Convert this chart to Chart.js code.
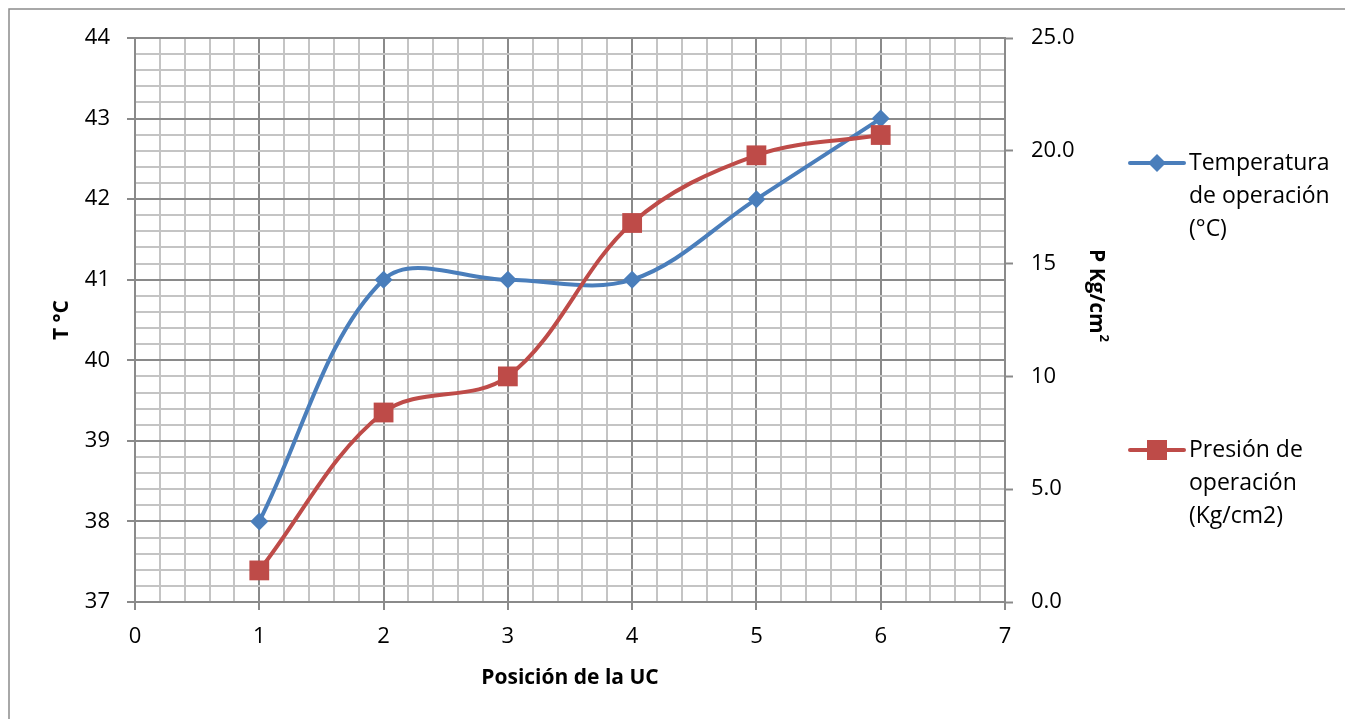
<!DOCTYPE html>
<html><head><meta charset="utf-8">
<script src="https://cdn.jsdelivr.net/npm/chart.js@4.4.1/dist/chart.umd.min.js"></script>
<style>html,body{margin:0;padding:0;background:#fff;}canvas{display:block;}</style>
</head><body>
<canvas id="c" width="1345" height="719"></canvas>
<script>
// ---- data ----
const positions = [1, 2, 3, 4, 5, 6];
const temperatura = [38, 41, 41, 41, 42, 43];
const presion = [1.4, 8.4, 10.0, 16.8, 19.8, 20.7];
const xTickLabels = ['0', '1', '2', '3', '4', '5', '6', '7'];
const leftTickLabels = ['37', '38', '39', '40', '41', '42', '43', '44'];
const rightTickValues = [0, 5, 10, 15, 20, 25];
const rightTickLabels = ['0.0', '5.0', '10', '15', '20.0', '25.0'];
const legendTemp = ['Temperatura', 'de operación', '(°C)'];
const legendPres = ['Presión de', 'operación', '(Kg/cm2)'];
const xTitle = 'Posición de la UC';
const leftTitle = 'T °C';
const rightTitleMain = 'P Kg/cm';
const rightTitleSup = '2';

// ---- style ----
const FONT = "'Open Sans', 'Noto Sans', sans-serif";
const BLUE = '#4A7EBB', RED = '#BE4B48';
const MAJOR = '#8a8a8a', MINOR = '#c4c4c4';
const isMajor = v => Math.abs(v - Math.round(v)) < 1e-6;
const minorTicks = (min, max) => { const a = []; for (let i = 0; i <= Math.round((max - min) * 5); i++) a.push({ value: min + i / 5 }); return a; };

const gridOpts = {
  color: c => isMajor(c.tick.value) ? MAJOR : MINOR,
  lineWidth: 2,
  tickLength: 8,
  tickColor: c => isMajor(c.tick.value) ? MAJOR : 'rgba(0,0,0,0)',
  tickWidth: 2
};

const extras = {
  id: 'extras',
  afterDraw(chart) {
    const ctx = chart.ctx;
    ctx.save();
    // outer frame
    ctx.strokeStyle = '#8c8c8c'; ctx.lineWidth = 1.5;
    ctx.beginPath(); ctx.moveTo(9, 730); ctx.lineTo(9, 9); ctx.lineTo(1360, 9); ctx.stroke();
    // right axis title
    ctx.fillStyle = '#000';
    ctx.translate(1096, 295);
    ctx.rotate(Math.PI / 2);
    ctx.font = 'bold 21px ' + FONT;
    ctx.textBaseline = 'middle';
    const wMain = ctx.measureText(rightTitleMain).width;
    ctx.font = 'bold 13px ' + FONT;
    const wSup = ctx.measureText(rightTitleSup).width;
    const start = -(wMain + wSup) / 2;
    ctx.font = 'bold 21px ' + FONT;
    ctx.textAlign = 'left';
    ctx.fillText(rightTitleMain, start, 0);
    ctx.font = 'bold 13px ' + FONT;
    ctx.fillText(rightTitleSup, start + wMain + 1, -8);
    ctx.restore();

    // legend
    ctx.save();
    const items = [
      { lines: legendTemp, color: BLUE, y: 163, shape: 'diamond' },
      { lines: legendPres, color: RED, y: 450, shape: 'square' }
    ];
    items.forEach(it => {
      ctx.strokeStyle = it.color; ctx.fillStyle = it.color;
      ctx.lineWidth = 4; ctx.lineCap = 'round';
      ctx.beginPath(); ctx.moveTo(1130, it.y); ctx.lineTo(1184, it.y); ctx.stroke();
      ctx.beginPath();
      if (it.shape === 'diamond') {
        ctx.moveTo(1157, it.y - 9); ctx.lineTo(1166, it.y); ctx.lineTo(1157, it.y + 9); ctx.lineTo(1148, it.y);
        ctx.closePath(); ctx.fill();
      } else {
        ctx.fillRect(1147, it.y - 10, 20, 20);
      }
      ctx.fillStyle = '#000';
      ctx.font = '23px ' + FONT;
      ctx.textBaseline = 'middle'; ctx.textAlign = 'left';
      it.lines.forEach((t, i) => ctx.fillText(t, 1189, it.y + i * 33));
    });
    ctx.restore();
  }
};

new Chart(document.getElementById('c'), {
  type: 'scatter',
  data: {
    datasets: [
      {
        label: legendTemp.join(' '),
        data: positions.map((x, i) => ({ x, y: temperatura[i] })),
        yAxisID: 'y', showLine: true, order: 1,
        borderColor: BLUE, backgroundColor: BLUE, borderWidth: 4,
        pointStyle: 'rectRot', pointRadius: 9, pointBorderWidth: 0,
        tension: 0.35, borderJoinStyle: 'round', borderCapStyle: 'round'
      },
      {
        label: legendPres.join(' '),
        data: positions.map((x, i) => ({ x, y: presion[i] })),
        yAxisID: 'y2', showLine: true, order: 0,
        borderColor: RED, backgroundColor: RED, borderWidth: 4,
        pointStyle: 'rect', pointRadius: 14, pointBorderWidth: 0,
        tension: 0.35, borderJoinStyle: 'round', borderCapStyle: 'round'
      }
    ]
  },
  options: {
    responsive: false, animation: false, devicePixelRatio: 1,
    layout: { padding: { top: 38, left: 0, right: 0, bottom: 0 } },
    plugins: { legend: { display: false }, tooltip: { enabled: false } },
    scales: {
      x: {
        type: 'linear', position: 'bottom', min: 0, max: 7,
        afterBuildTicks: s => { s.ticks = minorTicks(0, 7); },
        afterFit: s => { s.height = 117; },
        ticks: { autoSkip: false, maxRotation: 0, padding: 14, color: '#000', font: { family: FONT, size: 22 },
          callback: v => isMajor(v) ? xTickLabels[Math.round(v)] : '' },
        grid: gridOpts,
        border: { color: MAJOR, width: 2 },
        title: { display: true, text: xTitle, color: '#000', font: { family: FONT, size: 21, weight: 'bold' }, padding: { top: 0, bottom: 28 } }
      },
      y: {
        type: 'linear', position: 'left', min: 37, max: 44,
        afterBuildTicks: s => { s.ticks = minorTicks(37, 44); },
        afterFit: s => { s.width = 135; },
        ticks: { autoSkip: false, padding: 17, color: '#000', font: { family: FONT, size: 22 },
          callback: v => isMajor(v) ? leftTickLabels[Math.round(v) - 37] : '' },
        grid: gridOpts,
        border: { color: MAJOR, width: 2 },
        title: { display: true, text: leftTitle, color: '#000', font: { family: FONT, size: 21, weight: 'bold' }, padding: { top: 49, bottom: 0 } }
      },
      y2: {
        type: 'linear', position: 'right', min: 0, max: 25,
        afterBuildTicks: s => { s.ticks = rightTickValues.map(v => ({ value: v })); },
        afterFit: s => { s.width = 340; },
        ticks: { autoSkip: false, padding: 18, color: '#000', font: { family: FONT, size: 22 },
          callback: (v, i) => rightTickLabels[i] },
        grid: { drawOnChartArea: false, tickLength: 8, tickColor: MAJOR, tickWidth: 2 },
        border: { color: MAJOR, width: 2 }
      }
    }
  },
  plugins: [extras]
});
</script>
</body></html>
